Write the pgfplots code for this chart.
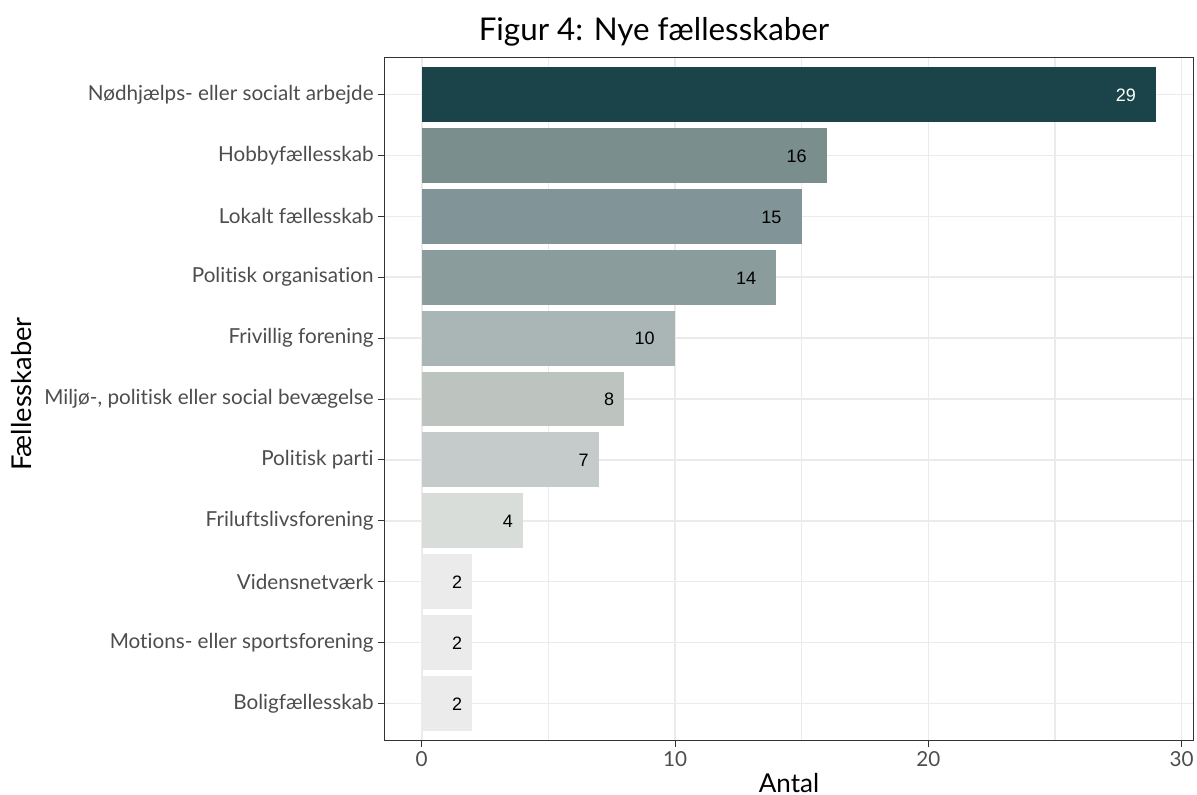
\documentclass[border=0pt]{standalone}
\usepackage{fontspec}
\setmainfont{Lato}[Ligatures=NoCommon]
\newfontfamily\arialfont{Liberation Sans}
\usepackage{pgfplots}
\pgfplotsset{compat=1.18}
\definecolor{cA}{HTML}{1A4449}
\definecolor{cB}{HTML}{7B8E8E}
\definecolor{cC}{HTML}{819598}
\definecolor{cD}{HTML}{8A9C9C}
\definecolor{cE}{HTML}{A9B6B5}
\definecolor{cF}{HTML}{BDC4C0}
\definecolor{cG}{HTML}{C5CACA}
\definecolor{cH}{HTML}{D9DDDA}
\definecolor{cI}{HTML}{EBEBEB}
\definecolor{gridc}{HTML}{EBEBEB}
\definecolor{axisc}{HTML}{333333}
\definecolor{tickc}{HTML}{4D4D4D}
\newcommand\mybar[3]{\addplot[fill=#1, draw=none, nodes near coords style={color=#3}] coordinates {(#2)};}
\begin{document}
\begin{tikzpicture}[x=1pt,y=1pt]
\useasboundingbox (0,0) rectangle (897.75,595.5);
\begin{axis}[
  at={(288.75pt,40.5pt)}, anchor=south west,
  scale only axis, width=606pt, height=511.5pt,
  xmin=-1.45, xmax=30.45, ymin=-0.6, ymax=10.6,
  xbar, bar width=0.9, bar shift=0pt,
  /pgf/number format/assume math mode=true,
  ytick={0,...,10},
  yticklabels={Boligfællesskab, Motions- eller sportsforening, Vidensnetværk, Friluftslivsforening, Politisk parti, {Miljø-, politisk eller social bevægelse}, Frivillig forening, Politisk organisation, Lokalt fællesskab, Hobbyfællesskab, Nødhjælps- eller socialt arbejde},
  xtick={0,10,20,30}, minor xtick={5,15,25},
  xmajorgrids, xminorgrids, ymajorgrids,
  major grid style={color=gridc, line width=1.2pt},
  minor grid style={color=gridc, line width=0.9pt},
  axis line style={color=axisc, line width=0.75pt},
  every tick/.style={color=axisc, line width=0.75pt},
  tick align=outside, major tick length=5pt, minor tick length=0pt,
  xtick pos=lower, ytick pos=left,
  ticklabel style={font=\fontsize{15.5}{18}\selectfont, color=tickc},
  point meta=x,
  nodes near coords={\pgfmathprintnumber{\pgfplotspointmeta}\phantom{\pgfmathprintnumber{\pgfplotspointmeta}}},
  every node near coord/.append style={anchor=east, inner sep=0pt, yshift=-0.5pt, font=\arialfont\fontsize{13.5}{15}\selectfont},
]
\mybar{cA}{29,10}{white}
\mybar{cB}{16,9}{black}
\mybar{cC}{15,8}{black}
\mybar{cD}{14,7}{black}
\mybar{cE}{10,6}{black}
\mybar{cF}{8,5}{black}
\mybar{cG}{7,4}{black}
\mybar{cH}{4,3}{black}
\mybar{cI}{2,2}{black}
\mybar{cI}{2,1}{black}
\mybar{cI}{2,0}{black}
\end{axis}
\node[anchor=base, font=\fontsize{23.5}{26}\selectfont] at (490.5,564.75) {Figur 4: Nye fællesskaber};
\node[anchor=base, font=\fontsize{19.5}{22}\selectfont] at (591.75,1.5) {Antal};
\node[anchor=base, rotate=90, font=\fontsize{20.5}{23}\selectfont] at (24,300) {Fællesskaber};
\end{tikzpicture}
\end{document}
